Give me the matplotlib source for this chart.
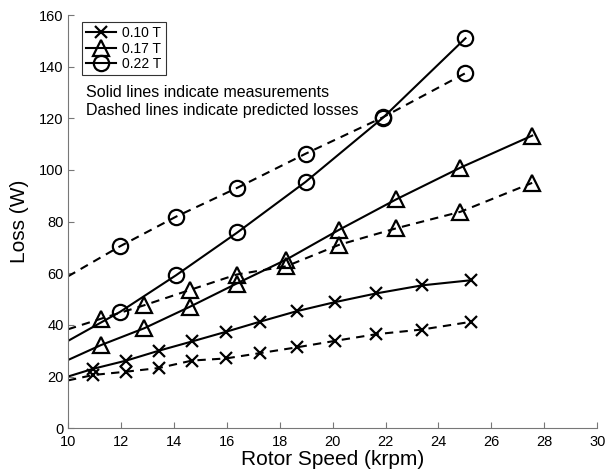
import numpy as np
import matplotlib
matplotlib.use("Agg")
import matplotlib.pyplot as plt

plt.rcParams['font.family'] = ['Liberation Sans', 'DejaVu Sans']

# rotor speed (krpm) and loss (W)
speed_010 = [10.95, 12.21, 13.43, 14.69, 15.96, 17.27, 18.64, 20.08, 21.65, 23.37, 25.23]
meas_010 = [23.0, 26.2, 30.0, 33.6, 37.3, 41.3, 45.3, 48.8, 52.2, 55.3, 57.3]
pred_010 = [20.6, 21.9, 23.3, 26.2, 27.0, 29.1, 31.3, 33.8, 36.4, 38.2, 41.2]

speed_017 = [11.25, 12.88, 14.60, 16.37, 18.25, 20.24, 22.40, 24.83, 27.54]
meas_017 = [32.2, 38.7, 47.0, 56.0, 65.3, 76.8, 88.6, 100.9, 113.3]
pred_017 = [42.4, 47.6, 53.5, 59.5, 62.7, 71.0, 77.4, 83.8, 95.0]

speed_022 = [11.96, 14.08, 16.40, 18.98, 21.90, 25.02]
meas_022 = [45.0, 59.2, 75.8, 95.4, 120.2, 151.0]
pred_022 = [70.4, 81.9, 93.1, 106.3, 120.4, 137.5]

# where each line meets the left axis (10 krpm)
start_speed = 10
start_meas = [20.0, 26.4, 33.8]
start_pred = [18.5, 38.3, 58.8]

labels = ['0.10 T', '0.17 T', '0.22 T']
markers = ['x', '^', 'o']
msizes = [8, 12, 11]

fig = plt.figure(figsize=(6.07, 4.69), dpi=100)
ax = fig.add_axes([0.112, 0.087, 0.872, 0.881])

groups = [(speed_010, meas_010, pred_010),
          (speed_017, meas_017, pred_017),
          (speed_022, meas_022, pred_022)]

handles = []
for i, (x, ym, yp) in enumerate(groups):
    mk, ms = markers[i], msizes[i]
    for y, y0, ls in [(ym, start_meas[i], '-'), (yp, start_pred[i], '--')]:
        line, = ax.plot([start_speed] + x, [y0] + y, color='black', ls=ls, lw=1.5)
        if ls == '--':
            line.set_dashes((4, 3))
        ax.plot(x, y, ls='none', marker=mk, ms=ms, mfc='none', mec='black', mew=1.6)
    h, = ax.plot([], [], color='black', lw=1.5, marker=mk, ms=ms, mfc='none',
                 mec='black', mew=1.6, label=labels[i])
    handles.append(h)

leg = ax.legend(handles=handles, loc='upper left', bbox_to_anchor=(0.026, 0.983),
                frameon=True, fancybox=False, fontsize=10, handlelength=2.2,
                handletextpad=0.4, labelspacing=0.1, borderpad=0.3,
                borderaxespad=0)
leg.get_frame().set_edgecolor('black')
leg.get_frame().set_linewidth(0.8)

ax.text(0.034, 0.813, 'Solid lines indicate measurements', transform=ax.transAxes,
        fontsize=11.5, va='center')
ax.text(0.034, 0.770, 'Dashed lines indicate predicted losses', transform=ax.transAxes,
        fontsize=11.5, va='center')

ax.set_xlim(10, 30)
ax.set_ylim(0, 160)
ax.set_xticks(range(10, 31, 2))
ax.set_yticks(range(0, 161, 20))
for s in ['top', 'right']:
    ax.spines[s].set_visible(False)
for s in ['left', 'bottom']:
    ax.spines[s].set_color('#777777')
    ax.spines[s].set_linewidth(0.8)
ax.tick_params(direction='in', length=4, color='#777777', labelsize=10.5)
ax.tick_params(axis='x', pad=5)
ax.tick_params(axis='y', pad=3)
ax.set_xlabel('Rotor Speed (krpm)', fontsize=15, labelpad=0.5)
ax.set_ylabel('Loss (W)', fontsize=15, labelpad=7)

fig.savefig('out.png', dpi=100)
